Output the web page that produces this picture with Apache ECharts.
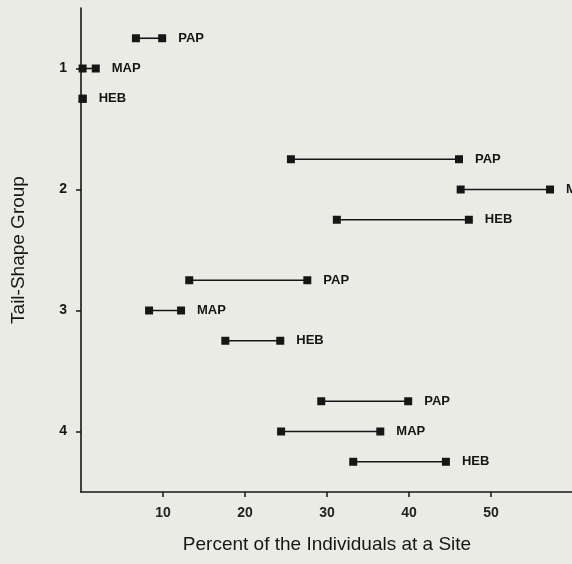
<!DOCTYPE html>
<html>
<head>
<meta charset="utf-8">
<script src="https://cdn.jsdelivr.net/npm/echarts@6/dist/echarts.min.js"></script>
<style>
  html, body { margin: 0; padding: 0; background: #ebebe6; }
  #chart { width: 572px; height: 564px; }
</style>
</head>
<body>
<div id="chart"></div>
<script>
// tail-shape groups and the three sites
const groups = [1, 2, 3, 4]
const sites = ['PAP', 'MAP', 'HEB']
const xTicks = [10, 20, 30, 40, 50]

// 95% confidence intervals, percent of individuals at a site
const papLow = [6.7, 25.6, 13.2, 29.3]
const papHigh = [9.9, 46.1, 27.6, 39.9]
const mapLow = [0.2, 46.3, 8.3, 24.4]
const mapHigh = [1.8, 57.2, 12.2, 36.5]
const hebLow = [0.2, 31.2, 17.6, 33.2]
const hebHigh = [0.2, 47.3, 24.3, 44.5]

const lows = [papLow, mapLow, hebLow]
const highs = [papHigh, mapHigh, hebHigh]
const rowOffset = [-0.25, 0, 0.25] // PAP above, MAP on the tick, HEB below

const font = '"Liberation Sans", Arial, sans-serif'
const ink = '#161616'

const data = []
groups.forEach((g, i) => {
  sites.forEach((s, k) => {
    data.push([lows[k][i], highs[k][i], g + rowOffset[k], s])
  })
})

function renderItem(params, api) {
  const a = api.coord([api.value(0), api.value(2)])
  const b = api.coord([api.value(1), api.value(2)])
  const sz = 8
  return {
    type: 'group',
    children: [
      { type: 'line', shape: { x1: a[0], y1: a[1], x2: b[0], y2: b[1] },
        style: { stroke: ink, lineWidth: 1.6 } },
      { type: 'rect', shape: { x: a[0] - sz / 2, y: a[1] - sz / 2, width: sz, height: sz },
        style: { fill: ink } },
      { type: 'rect', shape: { x: b[0] - sz / 2, y: b[1] - sz / 2, width: sz, height: sz },
        style: { fill: ink } },
      { type: 'text', x: b[0] + 16, y: b[1],
        style: { text: api.value(3), fill: ink, font: 'bold 13px ' + font,
          verticalAlign: 'middle' } }
    ]
  }
}

const chart = echarts.init(document.getElementById('chart'))
chart.setOption({
  backgroundColor: '#ebebe6',
  animation: false,
  grid: { left: 81, top: 8, width: 492, height: 484, outerBoundsMode: 'none' },
  xAxis: {
    type: 'value',
    min: 0,
    max: 60,
    name: 'Percent of the Individuals at a Site',
    nameLocation: 'middle',
    nameGap: 43,
    nameTextStyle: { fontFamily: font, fontSize: 19, color: ink },
    splitLine: { show: false },
    axisLine: { lineStyle: { color: ink, width: 1.6 } },
    axisTick: { length: 5, customValues: xTicks, lineStyle: { color: ink, width: 1.5 } },
    axisLabel: { customValues: xTicks, margin: 14, fontFamily: font, fontSize: 14, fontWeight: 'bold', color: '#222' }
  },
  yAxis: {
    type: 'value',
    min: 0.5,
    max: 4.5,
    inverse: true,
    name: 'Tail-Shape Group',
    nameLocation: 'middle',
    nameGap: 53,
    nameRotate: 90,
    nameTextStyle: { fontFamily: font, fontSize: 19, color: ink },
    splitLine: { show: false },
    axisLine: { show: true, lineStyle: { color: ink, width: 1.6 } },
    axisTick: { show: true, length: 5, customValues: groups, lineStyle: { color: ink, width: 1.5 } },
    axisLabel: { customValues: groups, margin: 14, fontFamily: font, fontSize: 14, fontWeight: 'bold', color: ink }
  },
  series: [{
    type: 'custom',
    renderItem: renderItem,
    clip: false,
    encode: { x: [0, 1], y: 2 },
    data: data
  }]
})
</script>
</body>
</html>
